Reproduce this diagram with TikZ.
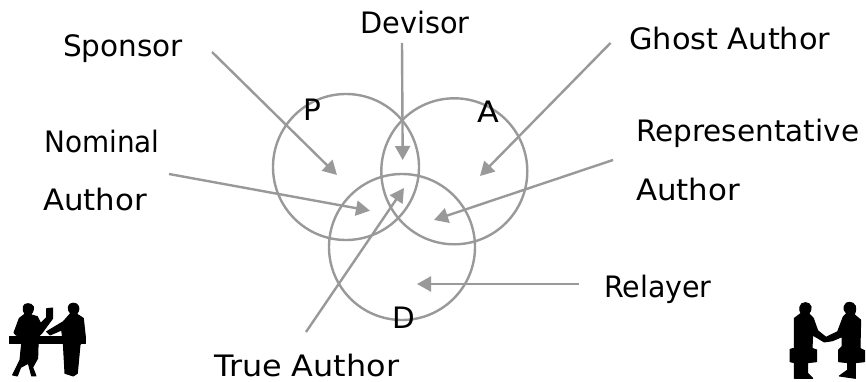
\documentclass[tikz,border=0pt]{standalone}
\usepackage{fontspec}
\setmainfont{DejaVu Sans}
\usetikzlibrary{arrows.meta}
\definecolor{ringgray}{HTML}{999999}
\tikzset{
  x=1pt,y=-1pt,
  lbl/.style={inner sep=0pt,font=\fontsize{29.5}{34}\selectfont,text=black,anchor=base west},
  wide/.style={xscale=#1,transform shape},
  ring/.style={circle,draw=ringgray,line width=2.4pt,minimum size=146pt,inner sep=0pt},
  pointer/.style={draw=ringgray,line width=2.4pt,-{Triangle[length=14pt,width=15pt]}},
  sil/.style={fill=black,draw=black,line width=1pt,line join=round},
}
\begin{document}
\begin{tikzpicture}
\useasboundingbox (0,0) rectangle (866,382);
\fill[white] (0,0) rectangle (866,382);
\node[ring] (P) at (346,167) {};
\node[ring] (A) at (454.3,171.3) {};
\node[ring] (D) at (402,247) {};
\coordinate (s1) at (212,52); \coordinate (s2) at (337,175);
\coordinate (d1) at (402,43); \coordinate (d2) at (402.7,160);
\coordinate (g1) at (610.5,43); \coordinate (g2) at (480,176);
\coordinate (r1) at (613,160); \coordinate (r2) at (434,220);
\coordinate (n1) at (169,174); \coordinate (n2) at (370,210.7);
\coordinate (t1) at (306,332); \coordinate (t2) at (404,188);
\coordinate (y1) at (579,284); \coordinate (y2) at (417,284);
\draw[pointer] (s1) -- (s2);
\draw[pointer] (d1) -- (d2);
\draw[pointer] (g1) -- (g2);
\draw[pointer] (r1) -- (r2);
\draw[pointer] (n1) -- (n2);
\draw[pointer] (t1) -- (t2);
\draw[pointer] (y1) -- (y2);
\node[lbl] (tP) at (303,121) {P};
\node[lbl,wide=1.08] (tA) at (477,123) {A};
\node[lbl] (tD) at (392,328.5) {D};
\node[lbl] (sponsor) at (63,57) {Sponsor};
\node[lbl,wide=.975] (devisor) at (360,34) {Devisor};
\node[lbl,wide=1.03] (ghost) at (629,50) {Ghost Author};
\node[lbl,wide=.945] (nominal) at (44,153) {Nominal};
\node[lbl,wide=1.045] (nominal2) at (43,210) {Author};
\node[lbl] (rep) at (636,142) {Representative};
\node[lbl,wide=1.045] (rep2) at (636,200) {Author};
\node[lbl,wide=.965] (relayer) at (604,297) {Relayer};
\node[lbl,wide=1.08] (true) at (214,376) {True Author};
% left silhouette
\begin{scope}[shift={(0,280)},scale=0.3333]
\fill[sil] (30,170) rectangle (258,190);
\filldraw[sil] (70,80) .. controls (72,68) and (95,68) .. (100,80) .. controls (102,92) and (96,100) .. (92,104) -- (112,110) -- (122,130) -- (140,112) -- (140,86) -- (158,84) -- (158,115) -- (125,160) -- (115,170) -- (113,235) -- (98,262) -- (108,288) -- (95,288) -- (85,250) -- (62,262) -- (52,288) -- (38,285) -- (60,240) -- (65,190) -- (60,170) -- (48,165) -- (42,158) -- (58,115) -- (75,102) .. controls (70,95) and (68,88) .. (70,80) -- cycle;
\filldraw[sil] (205,80) .. controls (208,66) and (232,66) .. (236,80) .. controls (238,90) and (234,98) .. (230,102) -- (250,115) -- (256,170) -- (240,195) -- (232,280) -- (220,288) -- (195,280) -- (190,190) -- (185,150) -- (150,165) -- (140,155) -- (190,125) -- (212,100) .. controls (206,95) and (204,88) .. (205,80) -- cycle;
\end{scope}
% right silhouette
\begin{scope}[shift={(766,280)},scale=0.3333]
\filldraw[sil] (102,80) .. controls (104,64) and (132,64) .. (135,80) .. controls (136,90) and (132,98) .. (128,100) -- (142,115) -- (155,152) -- (180,172) -- (215,155) -- (232,110) -- (242,100) .. controls (236,95) and (232,88) .. (235,78) .. controls (240,62) and (262,64) .. (268,78) .. controls (270,90) and (268,98) .. (265,104) -- (284,120) -- (282,205) -- (296,212) -- (296,245) -- (268,248) -- (268,295) -- (220,288) -- (245,270) -- (245,248) -- (218,245) -- (218,210) -- (228,200) -- (228,170) -- (200,182) -- (175,186) -- (140,165) -- (138,205) -- (152,210) -- (152,245) -- (125,248) -- (125,280) -- (140,295) -- (85,295) -- (85,248) -- (72,245) -- (72,208) -- (85,205) -- (85,115) -- (105,100) .. controls (102,95) and (100,88) .. (102,80) -- cycle;
\end{scope}
\end{tikzpicture}
\end{document}
